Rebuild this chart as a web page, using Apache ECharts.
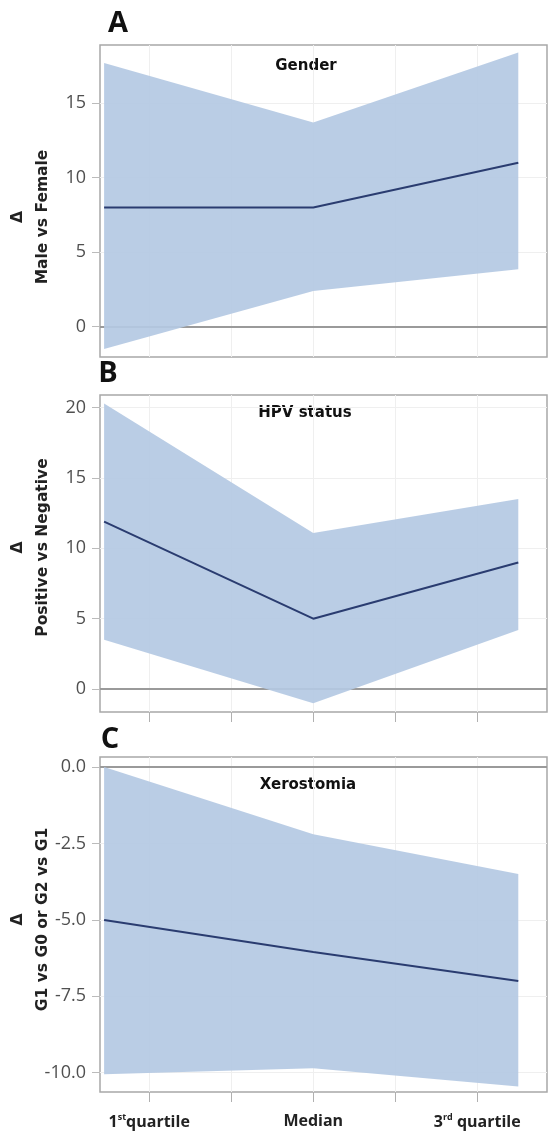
<!DOCTYPE html>
<html lang="en">
<head>
  <meta charset="UTF-8">
  <script src="https://cdn.jsdelivr.net/npm/echarts@6/dist/echarts.min.js"></script>
  <style>
    html, body { margin: 0; padding: 0; background: #fff; }
    #container { width: 549px; height: 1142px; }
  </style>
</head>
<body>
  <div id="container"></div>
  <script>
    // positions of the three quartiles on the x axis (tick units)
    var quartilePos = [-2.55, 0, 2.5];
    var xTicks = [-2, -1, 0, 1, 2];
    var xLabelTicks = [-2, 0, 2];
    var xLabels = ['1{sup|st}quartile', 'Median', '3{sup|rd} quartile'];

    // A - Gender
    var genderMean = [8, 8, 11];
    var genderLow = [-1.5, 2.4, 3.85];
    var genderHigh = [17.7, 13.7, 18.4];
    var genderTicks = [0, 5, 10, 15];

    // B - HPV status
    var hpvMean = [11.9, 5, 9];
    var hpvLow = [3.5, -1.0, 4.2];
    var hpvHigh = [20.3, 11.1, 13.5];
    var hpvTicks = [0, 5, 10, 15, 20];

    // C - Xerostomia
    var xeroMean = [-5, -6.05, -7];
    var xeroLow = [-10.05, -9.85, -10.45];
    var xeroHigh = [0, -2.2, -3.5];
    var xeroTicks = [-10, -7.5, -5, -2.5, 0];

    var panelTitles = ['Gender', 'HPV status', 'Xerostomia'];
    var panelNames = ['Δ\nMale vs Female', 'Δ\nPositive vs Negative', 'Δ\nG1 vs G0 or G2 vs G1'];

    var fillColor = '#b4c9e3';
    var lineColor = '#2a3c70';
    var gridColor = '#efefef';

    var pts = function (ys) {
      return ys.map(function (y, k) { return [quartilePos[k], y]; });
    };
    var bandPts = function (lo, hi) {
      return lo.map(function (y, k) { return [quartilePos[k], y, hi[k]]; });
    };

    var grids = [
      { left: 100, right: 2, top: 45, height: 312 },
      { left: 100, right: 2, top: 395, height: 317 },
      { left: 100, right: 2, top: 757, height: 335 }
    ];
    grids.forEach(function (g) {
      g.show = true;
      g.borderColor = '#a8a8a8';
      g.borderWidth = 1.5;
      g.backgroundColor = '#fff';
      g.outerBoundsMode = 'none';
      g.containLabel = false;
    });

    var xAxes = [0, 1, 2].map(function (i) {
      return {
        type: 'value',
        gridIndex: i,
        min: -2.6,
        max: 2.85,
        axisLine: { show: false, onZero: false },
        axisTick: {
          show: i > 0,
          length: 10,
          customValues: xTicks,
          lineStyle: { color: '#b0b0b0' }
        },
        axisLabel: {
          show: i === 2,
          customValues: xLabelTicks,
          margin: 21,
          color: '#222',
          fontFamily: 'Open Sans',
          fontWeight: 'bold',
          fontSize: 16,
          formatter: function (v) {
            var k = xLabelTicks.indexOf(v);
            return k >= 0 ? xLabels[k] : '';
          },
          rich: {
            sup: { fontSize: 9, fontWeight: 'bold', fontFamily: 'Open Sans', color: '#222', padding: [0, 0, 9, 0] }
          }
        },
        splitLine: { show: true, lineStyle: { color: gridColor, width: 1 } }
      };
    });

    var yRanges = [[-2.03, 18.9], [-1.63, 20.9], [-10.63, 0.33]];
    var yTickSets = [genderTicks, hpvTicks, xeroTicks];
    var namePads = [[0, 32, 0, 0], [0, 0, 0, 12], [0, 0, 0, 10]];
    var yAxes = [0, 1, 2].map(function (i) {
      return {
        type: 'value',
        gridIndex: i,
        min: yRanges[i][0],
        max: yRanges[i][1],
        name: panelNames[i],
        nameLocation: 'middle',
        nameRotate: 90,
        nameGap: 45,
        nameMoveOverlap: false,
        nameTextStyle: {
          color: '#222',
          fontFamily: 'DejaVu Sans',
          fontWeight: 'bold',
          fontSize: 15.5,
          lineHeight: 25,
          padding: namePads[i]
        },
        axisLine: { show: false, onZero: false },
        axisTick: { show: true, length: 8, customValues: yTickSets[i], lineStyle: { color: '#bbb' } },
        axisLabel: {
          customValues: yTickSets[i],
          margin: 14,
          color: '#505050',
          fontFamily: 'Open Sans',
          fontSize: 18,
          formatter: function (v) { return i === 2 ? v.toFixed(1) : String(v); }
        },
        splitLine: { show: true, lineStyle: { color: gridColor, width: 1 } }
      };
    });

    var panelData = [
      [genderLow, genderHigh, genderMean],
      [hpvLow, hpvHigh, hpvMean],
      [xeroLow, xeroHigh, xeroMean]
    ];

    // confidence band drawn as one polygon from all points of the panel
    var renderBand = function (params, api) {
      if (params.dataIndexInside !== 0) return null;
      var n = params.dataInsideLength;
      var upper = [], lower = [];
      for (var k = 0; k < n; k++) {
        upper.push(api.coord([api.value(0, k), api.value(2, k)]));
        lower.unshift(api.coord([api.value(0, k), api.value(1, k)]));
      }
      return {
        type: 'polygon',
        shape: { points: upper.concat(lower) },
        style: { fill: fillColor, opacity: 0.92 }
      };
    };

    var series = [];
    panelData.forEach(function (d, i) {
      series.push({
        type: 'custom',
        xAxisIndex: i, yAxisIndex: i,
        data: bandPts(d[0], d[1]),
        encode: { x: 0, y: [1, 2] },
        renderItem: renderBand,
        silent: true,
        z: 2,
        markLine: {
          symbol: 'none',
          silent: true,
          z: 1,
          label: { show: false },
          lineStyle: { color: '#9a9a9a', width: 2, type: 'solid' },
          data: [{ yAxis: 0 }]
        }
      });
      series.push({
        type: 'line',
        xAxisIndex: i, yAxisIndex: i,
        data: pts(d[2]),
        symbol: 'none',
        lineStyle: { color: lineColor, width: 2 },
        z: 3
      });
    });

    var txt = function (s, x, y, size, family) {
      return {
        type: 'text',
        x: x, y: y,
        style: {
          text: s,
          fill: '#111',
          font: 'bold ' + size + 'px "' + family + '"',
          textAlign: 'center', align: 'center',
          textVerticalAlign: 'middle', verticalAlign: 'middle'
        }
      };
    };

    var myChart = echarts.init(document.getElementById('container'));
    myChart.setOption({
      animation: false,
      grid: grids,
      xAxis: xAxes,
      yAxis: yAxes,
      series: series,
      graphic: [
        txt('A', 118, 24, 29, 'Open Sans'),
        txt('B', 108, 374, 29, 'Open Sans'),
        txt('C', 110, 740, 29, 'Open Sans'),
        txt(panelTitles[0], 306, 66, 15, 'DejaVu Sans'),
        txt(panelTitles[1], 305, 413, 15, 'DejaVu Sans'),
        txt(panelTitles[2], 308, 785, 15, 'DejaVu Sans')
      ]
    });
  </script>
</body>
</html>
